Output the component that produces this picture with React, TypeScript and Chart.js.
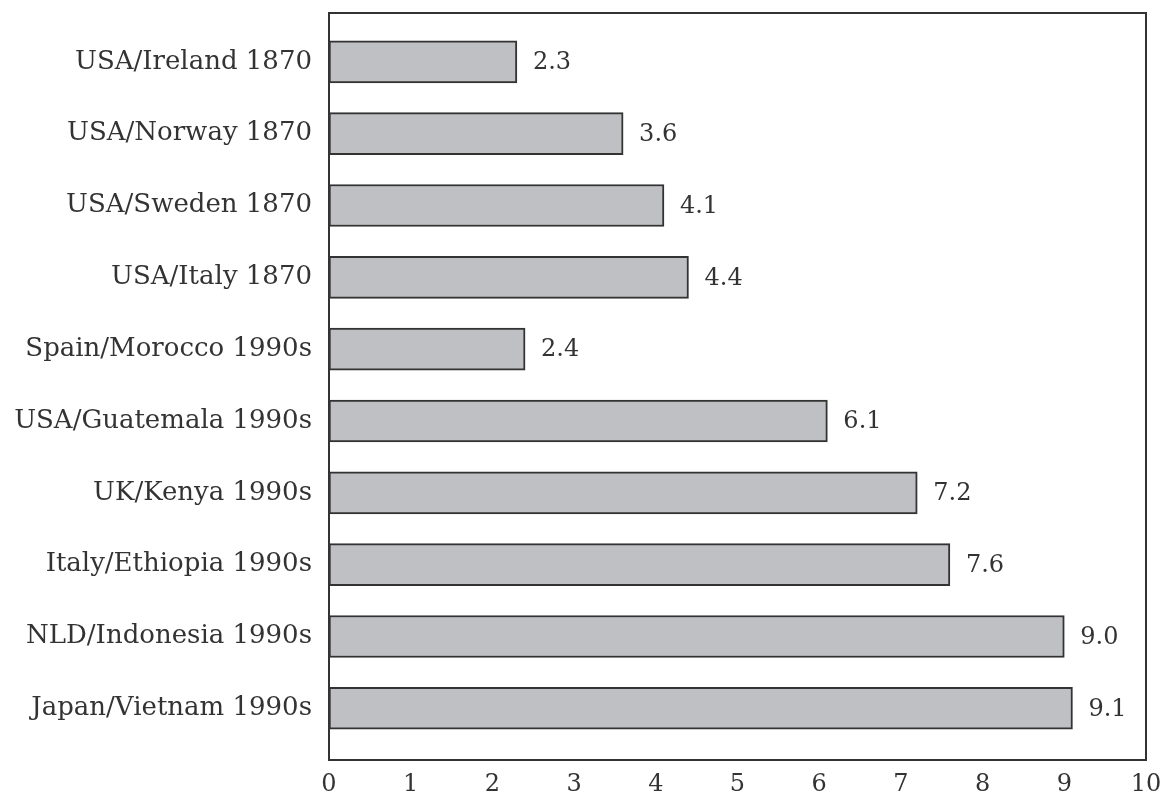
import React, { useEffect, useRef } from "react";
import { Chart, registerables } from "chart.js";

Chart.register(...registerables);

// Country pairs and their income ratios
const categories: string[] = [
  "USA/Ireland 1870",
  "USA/Norway 1870",
  "USA/Sweden 1870",
  "USA/Italy 1870",
  "Spain/Morocco 1990s",
  "USA/Guatemala 1990s",
  "UK/Kenya 1990s",
  "Italy/Ethiopia 1990s",
  "NLD/Indonesia 1990s",
  "Japan/Vietnam 1990s",
];

const ratios: number[] = [2.3, 3.6, 4.1, 4.4, 2.4, 6.1, 7.2, 7.6, 9.0, 9.1];

const xTicks: number[] = [0, 1, 2, 3, 4, 5, 6, 7, 8, 9, 10];

const FONT = "'DejaVu Serif', 'Liberation Serif', serif";
const INK = "#333333";

// Draws the full frame around the plotting area
const framePlugin = {
  id: "frame",
  afterDraw(chart: any) {
    const { ctx, chartArea } = chart;
    ctx.save();
    ctx.strokeStyle = INK;
    ctx.lineWidth = 2;
    ctx.strokeRect(
      chartArea.left,
      chartArea.top,
      chartArea.right - chartArea.left,
      chartArea.bottom - chartArea.top
    );
    ctx.restore();
  },
};

// Writes each bar's value just past its end
const valueLabelPlugin = {
  id: "valueLabels",
  afterDatasetsDraw(chart: any) {
    const { ctx } = chart;
    const meta = chart.getDatasetMeta(0);
    ctx.save();
    ctx.font = `24px ${FONT}`;
    ctx.fillStyle = INK;
    ctx.textAlign = "left";
    ctx.textBaseline = "middle";
    meta.data.forEach((bar: any, i: number) => {
      ctx.fillText(ratios[i].toFixed(1), bar.x + 16, bar.y + 1);
    });
    ctx.restore();
  },
};

const noScalePadding = (scale: any) => {
  scale.paddingTop = 0;
  scale.paddingBottom = 0;
  scale.paddingLeft = 0;
  scale.paddingRight = 0;
};

export default function App() {
  const canvasRef = useRef<HTMLCanvasElement | null>(null);

  useEffect(() => {
    if (!canvasRef.current) return;
    const chart = new Chart(canvasRef.current, {
      type: "bar",
      data: {
        datasets: [
          {
            data: ratios.map((v, i) => ({ x: v, y: i })),
            backgroundColor: "#bfc0c4",
            borderColor: INK,
            borderWidth: 2,
            borderSkipped: false,
            barThickness: 42,
          },
        ],
      },
      options: {
        indexAxis: "y",
        animation: false,
        responsive: true,
        maintainAspectRatio: false,
        layout: { padding: { top: 13, right: 17, left: 0, bottom: 0 } },
        plugins: {
          legend: { display: false },
          tooltip: { enabled: false },
        },
        scales: {
          x: {
            type: "linear",
            position: "bottom",
            min: 0,
            max: 10,
            afterBuildTicks: (scale: any) => {
              scale.ticks = xTicks.map((v) => ({ value: v }));
            },
            afterFit: (scale: any) => {
              scale.height = 31;
              noScalePadding(scale);
            },
            grid: { display: false, drawTicks: false },
            border: { display: true, color: INK, width: 2 },
            ticks: {
              padding: 10,
              color: INK,
              font: { family: FONT, size: 24 },
            },
          },
          y: {
            type: "linear",
            reverse: true,
            offset: false,
            min: -0.68,
            max: 9.72,
            afterBuildTicks: (scale: any) => {
              scale.ticks = categories.map((_, i) => ({ value: i }));
            },
            afterFit: (scale: any) => {
              scale.width = 329;
              noScalePadding(scale);
            },
            grid: { display: false, drawTicks: false, offset: false },
            border: { display: true, color: INK, width: 2 },
            ticks: {
              padding: 17,
              color: INK,
              font: { family: FONT, size: 26 },
              callback: (v: any) => categories[v as number] ?? "",
            },
          },
        },
      },
      plugins: [framePlugin, valueLabelPlugin],
    });
    return () => chart.destroy();
  }, []);

  return (
    <div
      style={{
        position: "fixed",
        left: 0,
        top: 0,
        width: 1163,
        height: 791,
        background: "#ffffff",
      }}
    >
      <canvas ref={canvasRef} />
    </div>
  );
}
